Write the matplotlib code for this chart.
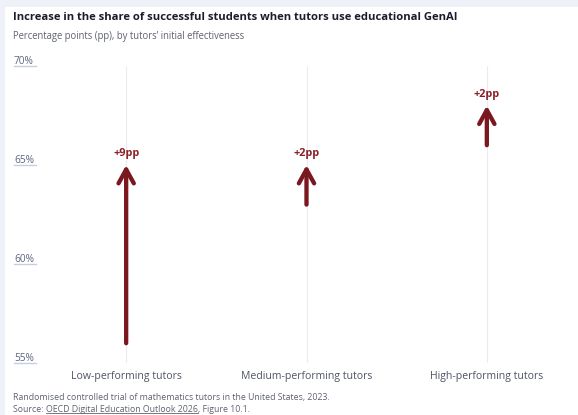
import numpy as np
import matplotlib.pyplot as plt
from matplotlib import transforms
from matplotlib.lines import Line2D

#===Data===#
categories = ["Low-performing tutors", "Medium-performing tutors", "High-performing tutors"]
start_vals = [56, 63, 66]
end_vals = [65, 65, 68]
gain_labels = ["+9pp", "+2pp", "+2pp"]
y_ticks = [55, 60, 65, 70]

plt.rcParams['font.family'] = ['Open Sans', 'DejaVu Sans']

W, H = 578, 415
fig = plt.figure(figsize=(W / 100, H / 100), dpi=100)
fig.patch.set_facecolor('#eef1f8')

#===White card===#
card = plt.Rectangle((5 / W, 0), 1, (H - 7) / H, transform=fig.transFigure,
                     facecolor='white', edgecolor='none', zorder=-5)
fig.patches.append(card)

#===Titles===#
fig.text(13 / W, 1 - 17 / H, "Increase in the share of successful students when tutors use educational GenAI",
         fontsize=8.1, fontweight='bold', color='#1c1c2b', va='center', ha='left')
fig.text(13 / W, 1 - 37 / H, "Percentage points (pp), by tutors\u2019 initial effectiveness",
         fontsize=6.85, color='#5f6370', va='center', ha='left')

#===Axes===#
ax = fig.add_axes([36 / W, (H - 363) / H, (577 - 36) / W, (363 - 66) / H])
ax.set_facecolor('none')
ax.set_xlim(-0.5, 2.5)
ax.set_ylim(55, 70)
for s in ax.spines.values():
    s.set_visible(False)
ax.set_yticks([])
ax.set_xticks([])

x = np.arange(len(categories))
for xi in x:
    ax.axvline(xi, color='#ececf0', lw=0.8, zorder=1)

#===Y labels with short underline===#
trans = transforms.blended_transform_factory(fig.transFigure, ax.transData)
for t in y_ticks:
    ax.annotate("%d%%" % t, xy=(14 / W, t), xycoords=trans, xytext=(0, -0.5),
                textcoords='offset points', fontsize=7.3, color='#5f6680',
                ha='left', va='bottom', annotation_clip=False)
    ax.add_line(Line2D([14 / W, 36 / W], [t, t], transform=trans, color='#c9cde0',
                       lw=1.0, clip_on=False))

#===Arrows===#
arrow_col = '#7a1820'
for xi, s, e, lab in zip(x, start_vals, end_vals, gain_labels):
    ax.annotate("", xy=(xi, e), xytext=(xi, s),
                arrowprops=dict(arrowstyle='->,head_width=0.55,head_length=1.0',
                                color=arrow_col, lw=3.1, shrinkA=0, shrinkB=0))
    ax.annotate(lab, xy=(xi, e), xytext=(0, 4), textcoords='offset points',
                ha='center', va='bottom', fontsize=7.8, fontweight='bold', color='#8c2027')

#===Category labels===#
for xi, c in zip(x, categories):
    ax.annotate(c, xy=(xi, 55), xytext=(0, -9.5), textcoords='offset points',
                ha='center', va='center', fontsize=7.6, color='#4f5566', annotation_clip=False)

#===Footer===#
fs = 6.35
fig.text(13 / W, 1 - 397 / H, "Randomised controlled trial of mathematics tutors in the United States, 2023.",
         fontsize=fs, color='#5f6370', va='center', ha='left')
src = fig.text(13 / W, 1 - 409 / H, "Source: ", fontsize=fs, color='#5f6370', va='center', ha='left')
fig.canvas.draw()
bb = src.get_window_extent()
link = fig.text(bb.x1 / W, 1 - 409 / H, "OECD Digital Education Outlook 2026", fontsize=fs,
                color='#5f6370', va='center', ha='left')
fig.canvas.draw()
bb2 = link.get_window_extent()
fig.add_artist(Line2D([bb2.x0 / W, bb2.x1 / W], [(bb2.y0 + 0.5) / H] * 2, transform=fig.transFigure,
                      color='#5f6370', lw=0.6))
fig.text(bb2.x1 / W, 1 - 409 / H, ", Figure 10.1.", fontsize=fs, color='#5f6370', va='center', ha='left')

plt.savefig("out.png", dpi=100)
